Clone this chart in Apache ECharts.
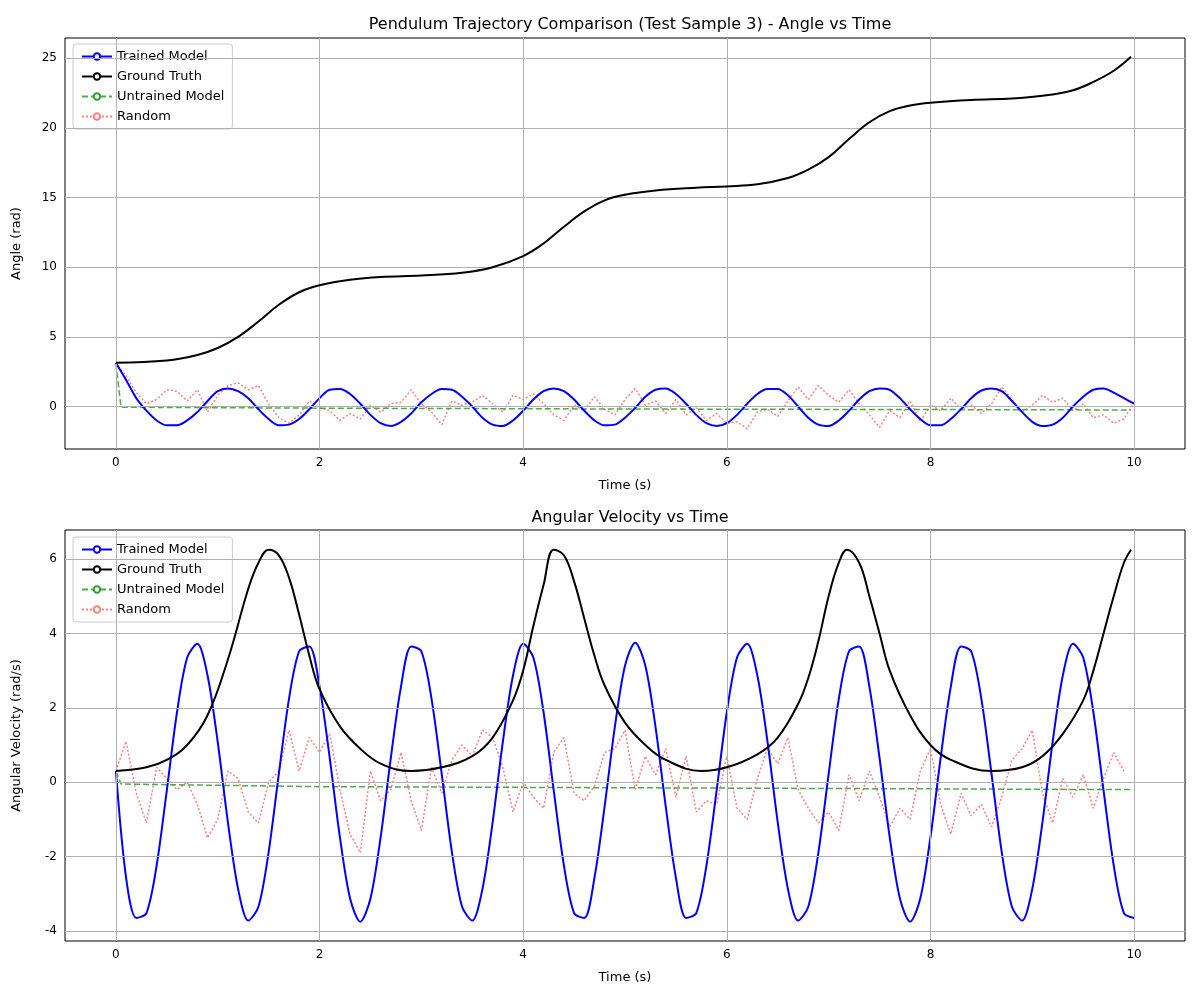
<!DOCTYPE html>
<html lang="en">
<head>
    <meta charset="UTF-8">
    <title>Pendulum Trajectory Comparison</title>
    <style>
        body { margin: 0; background: #fff; }
        #chart { width: 1200px; height: 1000px; }
    </style>
</head>
<body>
    <div id="chart"></div>
    <script src="https://cdn.jsdelivr.net/npm/echarts@6/dist/echarts.min.js"></script>
    <script>
        // time samples for the 0.1 s series
        const time = Array.from({ length: 101 }, (_, i) => +(i * 0.1).toFixed(1));

        const trainedAngle = [3.14, 1.9, 0.6, -0.3, -1.0, -1.35, -1.35, -1.0, -0.4, 0.4,
            1.1, 1.3, 1.1, 0.6, -0.2, -0.9, -1.35, -1.3, -0.9, -0.2,
            0.6, 1.2, 1.25, 0.9, 0.2, -0.6, -1.2, -1.4, -1.1, -0.5,
            0.3, 0.9, 1.25, 1.2, 0.7, 0.0, -0.8, -1.3, -1.4, -1.0,
            -0.3, 0.5, 1.1, 1.3, 1.1, 0.5, -0.3, -1.0, -1.35, -1.3,
            -0.8, -0.1, 0.7, 1.2, 1.3, 0.9, 0.2, -0.6, -1.2, -1.4,
            -1.2, -0.6, 0.2, 0.9, 1.25, 1.25, 0.8, 0.0, -0.8, -1.3,
            -1.4, -1.0, -0.3, 0.5, 1.1, 1.3, 1.2, 0.6, -0.2, -0.9,
            -1.35, -1.35, -0.9, -0.2, 0.6, 1.15, 1.3, 1.1, 0.4, -0.4,
            -1.1, -1.4, -1.3, -0.8, 0.0, 0.7, 1.2, 1.3, 1.0, 0.6, 0.2];

        const truthAngle = [[0, 3.14], [0.5, 3.3], [0.8, 3.7], [1.0, 4.2], [1.2, 5.0], [1.4, 6.1], [1.6, 7.3],
            [1.8, 8.2], [2.0, 8.7], [2.3, 9.1], [2.6, 9.3], [3.0, 9.4], [3.4, 9.6], [3.7, 10.0], [4.0, 10.8],
            [4.2, 11.7], [4.4, 12.9], [4.6, 14.0], [4.8, 14.8], [5.0, 15.2], [5.3, 15.5], [5.7, 15.7],
            [6.0, 15.8], [6.3, 15.95], [6.6, 16.4], [6.8, 17.0], [7.0, 17.9], [7.2, 19.2], [7.4, 20.4],
            [7.6, 21.2], [7.8, 21.6], [8.0, 21.8], [8.4, 22.0], [8.8, 22.1], [9.1, 22.3], [9.4, 22.7],
            [9.6, 23.3], [9.8, 24.1], [9.97, 25.1]];

        const untrainedAngle = [[0, 3.1], [0.05, -0.05], [2, -0.12], [5, -0.18], [8, -0.22], [9.97, -0.25]];

        const randomAngle = [3.1, 2.2, 1.0, 0.2, 0.5, 1.2, 1.1, 0.4, 1.2, -0.4,
            0.8, 1.5, 1.7, 1.2, 1.5, 0.2, -0.8, -1.2, -0.6, 0.4,
            -0.1, -0.3, -1.0, -0.5, -0.9, 0.1, -0.4, 0.2, 0.3, 1.2,
            0.2, -0.4, -1.3, 0.4, 0.1, 0.3, 0.8, 0.2, -0.4, 0.8,
            0.5, 0.9, 0.2, -0.6, -1.0, 0.1, -0.3, 0.7, -0.2, -0.6,
            0.5, 1.3, 0.1, 0.4, -0.5, 0.5, -0.6, -0.1, -1.0, -0.5,
            -1.2, -1.1, -1.6, -0.4, -0.2, -0.7, 0.4, 1.4, 0.5, 1.5,
            0.8, 0.3, 1.2, 0.2, -0.6, -1.5, -0.3, -0.8, 0.4, -1.1,
            0.1, -0.3, 0.6, -0.2, 0.1, -0.5, 0.2, 1.4, 0.5, -0.4,
            0.1, 0.8, 0.3, 0.6, -0.3, 0.2, -0.8, -0.6, -1.2, -0.9, 0.3];

        const trainedVel = [0.3, -2.57, -3.65, -3.52, -2.24, -0.22, 1.88, 3.35, 3.72, 2.87,
            1.08, -1.08, -2.87, -3.72, -3.35, -1.88, 0.22, 2.24, 3.52, 3.65,
            2.57, 0.65, -1.48, -3.13, -3.75, -3.13, -1.48, 0.65, 2.57, 3.65,
            3.52, 2.24, 0.22, -1.88, -3.35, -3.72, -2.87, -1.08, 1.08, 2.87,
            3.72, 3.35, 1.88, -0.22, -2.24, -3.52, -3.65, -2.57, -0.65, 1.48,
            3.13, 3.75, 3.13, 1.48, -0.65, -2.57, -3.65, -3.52, -2.24, -0.22,
            1.88, 3.35, 3.72, 2.87, 1.08, -1.08, -2.87, -3.72, -3.35, -1.88,
            0.22, 2.24, 3.52, 3.65, 2.57, 0.65, -1.48, -3.13, -3.75, -3.13,
            -1.48, 0.65, 2.57, 3.65, 3.52, 2.24, 0.22, -1.88, -3.35, -3.72,
            -2.87, -1.08, 1.08, 2.87, 3.72, 3.35, 1.88, -0.22, -2.24, -3.52, -3.65];

        const truthVel = [[0, 0.3], [0.3, 0.4], [0.5, 0.6], [0.7, 1.0], [0.9, 1.8], [1.1, 3.3], [1.3, 5.2],
            [1.4, 5.9], [1.5, 6.25], [1.6, 6.1], [1.7, 5.5], [1.8, 4.5], [1.9, 3.4], [2.0, 2.5], [2.2, 1.5],
            [2.4, 0.9], [2.6, 0.5], [2.9, 0.3], [3.2, 0.4], [3.5, 0.7], [3.7, 1.2], [3.9, 2.2], [4.0, 3.0],
            [4.1, 4.2], [4.2, 5.3], [4.3, 6.25], [4.4, 6.1], [4.5, 5.4], [4.6, 4.4], [4.7, 3.4], [4.8, 2.6],
            [5.0, 1.6], [5.2, 1.0], [5.4, 0.6], [5.75, 0.3], [6.0, 0.4], [6.3, 0.75], [6.5, 1.2], [6.7, 2.1],
            [6.8, 2.8], [6.9, 3.8], [7.0, 5.0], [7.1, 5.9], [7.18, 6.25], [7.3, 5.9], [7.4, 5.0], [7.5, 4.0],
            [7.6, 3.0], [7.8, 1.8], [8.0, 1.0], [8.2, 0.6], [8.6, 0.3], [8.9, 0.4], [9.1, 0.7], [9.3, 1.3],
            [9.5, 2.2], [9.6, 3.0], [9.7, 4.0], [9.8, 5.0], [9.9, 5.9], [9.97, 6.25]];

        const untrainedVel = [[0, 0.3], [0.05, -0.05], [2, -0.12], [5, -0.15], [8, -0.18], [9.97, -0.2]];

        const randomVel = [0.3, 1.1, -0.3, -1.1, 0.4, 0.1, -0.2, 0.0, -0.6, -1.5,
            -1.0, 0.3, 0.1, -0.8, -1.1, 0.0, 0.3, 1.4, 0.3, 1.2,
            0.8, 1.3, -0.2, -1.4, -1.9, 0.3, -0.5, -0.2, 0.8, -0.5,
            -1.3, 0.4, -0.3, 0.6, 1.0, 0.7, 1.4, 1.2, 0.4, -0.8,
            0.0, -0.4, -0.7, 0.8, 1.2, -0.3, -0.5, -0.1, 0.8, 0.9,
            1.4, -0.2, 0.7, 0.2, 0.9, -0.4, 0.7, -0.8, -0.5, -0.6,
            0.7, -0.7, -1.0, 0.1, 0.9, 0.5, 1.2, -0.2, -0.7, -1.1,
            -0.8, -1.3, 0.2, -0.5, 0.3, -0.4, -1.2, -0.7, -1.0, 0.3,
            0.9, -0.6, -1.4, -0.3, -0.9, -0.6, -1.2, -0.4, 0.6, 0.9,
            1.4, -0.3, -1.1, 0.1, -0.4, 0.2, -0.7, 0.1, 0.8, 0.3];

        const xTicks = [0, 2, 4, 6, 8, 10];
        const yTicksTop = [0, 5, 10, 15, 20, 25];
        const yTicksBottom = [-4, -2, 0, 2, 4, 6];

        const zip = (arr) => arr.map((v, i) => [time[i], v]);
        const font = 'DejaVu Sans';

        function xAxis(idx) {
            return {
                type: 'value', gridIndex: idx, min: -0.5, max: 10.5,
                name: 'Time (s)', nameLocation: 'middle', nameGap: 30,
                nameTextStyle: { color: '#000', fontSize: 13, fontFamily: font },
                axisLine: { lineStyle: { color: '#000' } },
                axisTick: { show: true, customValues: xTicks, length: 4, lineStyle: { color: '#000' } },
                axisLabel: { customValues: xTicks, color: '#000', fontSize: 12, fontFamily: font },
                splitLine: { show: false }
            };
        }
        function yAxis(idx, name, min, max, ticks) {
            return {
                type: 'value', gridIndex: idx, min: min, max: max,
                name: name, nameLocation: 'middle', nameGap: 42,
                nameTextStyle: { color: '#000', fontSize: 13, fontFamily: font },
                axisLine: { show: true, lineStyle: { color: '#000' } },
                axisTick: { show: true, customValues: ticks, length: 4, lineStyle: { color: '#000' } },
                axisLabel: { customValues: ticks, color: '#000', fontSize: 12, fontFamily: font },
                splitLine: { show: false }
            };
        }
        // grid lines drawn as extra series-free markLines would type coords; use separate gridline axes instead
        function gridX(idx) {
            return { type: 'value', gridIndex: idx, min: -0.5, max: 10.5, show: true, position: 'top',
                axisLine: { show: false }, axisTick: { show: false }, axisLabel: { show: false },
                splitLine: { show: false } };
        }
        const lines = (xi, trained, truth, untrained, random) => [
            { name: 'Trained Model', type: 'line', xAxisIndex: xi, yAxisIndex: xi, data: trained, showSymbol: false,
              smooth: 0.3, lineStyle: { color: '#0000ff', width: 2 }, itemStyle: { color: '#0000ff' }, z: 4 },
            { name: 'Ground Truth', type: 'line', xAxisIndex: xi, yAxisIndex: xi, data: truth, showSymbol: false,
              smooth: 0.4, lineStyle: { color: '#000', width: 2 }, itemStyle: { color: '#000' }, z: 5 },
            { name: 'Untrained Model', type: 'line', xAxisIndex: xi, yAxisIndex: xi, data: untrained, showSymbol: false,
              lineStyle: { color: '#2ca02c', width: 1.5, type: [6, 3], opacity: 0.85 }, itemStyle: { color: '#2ca02c' }, z: 3 },
            { name: 'Random', type: 'line', xAxisIndex: xi, yAxisIndex: xi, data: random, showSymbol: false,
              lineStyle: { color: '#ff0000', width: 1.5, type: [2, 2], opacity: 0.5 }, itemStyle: { color: '#ff8080' }, z: 2 }
        ];
        // vertical/horizontal grid lines through the tick values
        const gridLines = (xi, yTicks, ymin, ymax) => ({
            type: 'line', xAxisIndex: xi, yAxisIndex: xi, data: [], silent: true,
            markLine: {
                silent: true, symbol: 'none', label: { show: false },
                lineStyle: { color: '#b0b0b0', width: 1, type: 'solid' },
                data: xTicks.map(v => ({ xAxis: v })).concat(yTicks.map(v => ({ yAxis: v })))
            }, z: 1
        });
        const legend = (top) => ({
            orient: 'vertical', left: 73, top: top, itemWidth: 30, itemHeight: 8, itemGap: 7,
            padding: [6, 8], borderColor: '#ccc', borderWidth: 1, borderRadius: 3, backgroundColor: '#fff',
            textStyle: { color: '#000', fontSize: 13, fontFamily: font },
            data: ['Trained Model', 'Ground Truth', 'Untrained Model', 'Random']
        });

        const chart = echarts.init(document.getElementById('chart'));
        chart.setOption({
            animation: false,
            backgroundColor: '#fff',
            title: [
                { text: 'Pendulum Trajectory Comparison (Test Sample 3) - Angle vs Time', left: 625, top: 12, textAlign: 'center',
                  textStyle: { fontSize: 16, fontWeight: 'normal', color: '#000', fontFamily: font } },
                { text: 'Angular Velocity vs Time', left: 625, top: 505, textAlign: 'center',
                  textStyle: { fontSize: 16, fontWeight: 'normal', color: '#000', fontFamily: font } }
            ],
            legend: [legend(44), Object.assign(legend(537), {})],
            grid: [
                { left: 65, right: 15, top: 38, height: 411, show: true, borderColor: '#000', borderWidth: 1 },
                { left: 65, right: 15, top: 530, height: 411, show: true, borderColor: '#000', borderWidth: 1 }
            ],
            xAxis: [xAxis(0), xAxis(1)],
            yAxis: [
                yAxis(0, 'Angle (rad)', -3.05, 26.45, yTicksTop),
                yAxis(1, 'Angular Velocity (rad/s)', -4.27, 6.78, yTicksBottom)
            ],
            series: [
                gridLines(0, yTicksTop),
                gridLines(1, yTicksBottom),
                ...lines(0, zip(trainedAngle), truthAngle, untrainedAngle, zip(randomAngle)),
                ...lines(1, zip(trainedVel), truthVel, untrainedVel, zip(randomVel))
            ]
        });
    </script>
</body>
</html>
